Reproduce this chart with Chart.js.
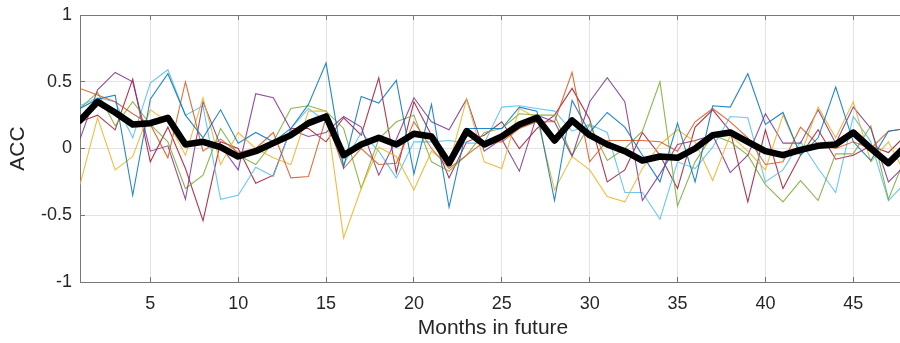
<!DOCTYPE html>
<html>
<head>
<meta charset="utf-8">
<script src="https://cdn.jsdelivr.net/npm/chart.js@4/dist/chart.umd.min.js"></script>
<style>
  html, body { margin: 0; padding: 0; background: #fff; overflow: hidden; }
  #wrap { width: 910px; height: 343px; }
</style>
</head>
<body>
<div id="wrap"><canvas id="acc" width="910" height="343"></canvas></div>
<script>
// lead months
const months = [1, 2, 3, 4, 5, 6, 7, 8, 9, 10, 11, 12, 13, 14, 15, 16, 17, 18, 19, 20, 21, 22, 23, 24,
                25, 26, 27, 28, 29, 30, 31, 32, 33, 34, 35, 36, 37, 38, 39, 40, 41, 42, 43, 44, 45, 46, 47, 48];
const xTicks = [5, 10, 15, 20, 25, 30, 35, 40, 45];
const yTicks = [-1, -0.5, 0, 0.5, 1];

// ACC of the individual runs
const run1 = [0.30, 0.37, 0.40, -0.35, 0.37, 0.56, 0.25, 0.08, 0.29, 0.04, 0.12, 0.05, 0.15, 0.33, 0.64, -0.14,
              0.39, 0.34, 0.51, -0.19, 0.33, -0.44, 0.15, 0.15, 0.15, 0.31, 0.28, -0.39, 0.36, 0.12, 0.27, 0.16,
              -0.05, -0.25, 0.19, -0.25, 0.32, 0.31, 0.56, 0.18, 0.27, -0.05, 0.08, 0.46, 0.05, -0.09, 0.13, 0.15];
const run2 = [0.45, 0.40, 0.35, 0.26, 0.18, -0.07, 0.50, -0.02, 0.07, -0.03, 0.00, 0.12, -0.22, -0.21, 0.23, -0.15,
              0.00, -0.12, -0.11, 0.20, 0.00, -0.15, -0.05, 0.05, 0.05, 0.15, 0.20, 0.20, 0.57, -0.10, 0.06, 0.06,
              0.06, 0.05, -0.02, 0.20, 0.30, 0.20, 0.08, -0.12, -0.10, 0.16, 0.03, 0.00, 0.05, 0.00, 0.13, 0.15];
const run3 = [-0.27, 0.23, -0.16, -0.06, 0.29, 0.20, -0.05, 0.38, -0.12, 0.12, 0.00, -0.07, -0.12, 0.28, 0.28, -0.67,
              -0.30, 0.01, -0.06, -0.31, -0.02, -0.12, 0.37, -0.10, -0.15, 0.30, 0.23, -0.31, -0.06, -0.16, -0.36, -0.40,
              -0.15, 0.03, 0.14, 0.05, -0.24, 0.10, -0.02, -0.16, 0.25, -0.05, 0.31, 0.08, 0.35, -0.10, 0.05, -0.20];
const run4 = [0.07, 0.44, 0.57, 0.50, -0.02, 0.02, -0.38, 0.35, 0.02, -0.16, 0.41, 0.38, 0.14, 0.09, 0.12, 0.24,
              0.16, -0.20, 0.07, 0.38, 0.20, 0.14, 0.37, -0.02, 0.07, -0.17, 0.25, 0.20, -0.06, 0.35, 0.53, 0.35,
              -0.39, -0.19, 0.03, 0.06, 0.10, -0.18, -0.05, 0.26, 0.04, 0.04, 0.29, 0.04, 0.31, 0.15, -0.25, -0.12];
const run5 = [0.30, 0.42, 0.17, 0.35, 0.18, 0.05, -0.30, -0.20, 0.15, -0.05, -0.12, 0.05, 0.30, 0.32, 0.28, 0.15,
              -0.30, 0.07, 0.20, 0.25, -0.10, -0.17, -0.05, 0.12, 0.15, 0.26, 0.25, 0.25, -0.05, 0.18, -0.09, 0.00,
              0.13, 0.50, -0.43, -0.10, 0.10, 0.05, -0.05, -0.27, -0.40, -0.24, -0.39, -0.04, -0.04, 0.17, -0.38, -0.05];
const run6 = [0.32, 0.38, 0.35, 0.08, 0.49, 0.59, 0.25, 0.32, -0.38, -0.35, -0.14, -0.21, 0.15, 0.30, 0.20, -0.12,
              0.12, -0.02, -0.22, 0.05, 0.05, 0.06, 0.04, 0.04, 0.31, 0.32, 0.30, 0.28, 0.13, 0.18, 0.12, -0.33,
              -0.33, -0.53, -0.10, -0.15, 0.01, 0.24, 0.23, -0.25, -0.16, 0.05, -0.15, -0.33, 0.24, 0.05, -0.39, -0.25];
const run7 = [0.20, 0.25, 0.14, 0.52, -0.10, 0.16, -0.15, -0.54, 0.05, 0.00, -0.26, -0.20, 0.15, 0.15, 0.05, 0.23,
              0.10, 0.53, -0.18, 0.35, 0.10, -0.22, 0.05, 0.10, 0.20, 0.00, 0.15, 0.25, 0.45, 0.22, -0.25, -0.16,
              0.12, -0.05, -0.30, 0.16, 0.29, 0.13, -0.40, 0.14, -0.30, -0.05, 0.14, -0.08, -0.05, 0.02, -0.03, 0.10];

// ensemble mean
const meanAcc = [0.21, 0.35, 0.27, 0.18, 0.19, 0.23, 0.03, 0.05, 0.01, -0.06, -0.02, 0.04, 0.10, 0.19, 0.24, -0.05,
                 0.03, 0.08, 0.03, 0.11, 0.09, -0.11, 0.13, 0.03, 0.09, 0.18, 0.23, 0.06, 0.21, 0.10, 0.03, -0.02,
                 -0.09, -0.06, -0.07, 0.00, 0.10, 0.12, 0.05, -0.02, -0.05, -0.01, 0.02, 0.03, 0.12, 0.00, -0.11, 0.02];

const runs = [run1, run2, run3, run4, run5, run6, run7];
const colors = ['#0072BD', '#D95319', '#EDB120', '#7E2F8E', '#77AC30', '#4DBEEE', '#A2142F'];

const pts = vals => vals.map((v, i) => ({ x: months[i], y: v }));

const datasets = [{
    data: pts(meanAcc),
    borderColor: '#000',
    borderWidth: 6.5,
    borderJoinStyle: 'round',
    borderCapStyle: 'round'
}];
runs.forEach((r, k) => {
    datasets.push({ data: pts(r), borderColor: colors[k] + 'd9', borderWidth: 1.1 });
});

const font = { family: '"Liberation Sans", Arial, sans-serif', size: 18 };
const axisColor = '#777';
const gridColor = '#e3e3e3';

new Chart(document.getElementById('acc'), {
    type: 'line',
    data: { datasets: datasets },
    options: {
        responsive: false,
        animation: false,
        events: [],
        layout: { padding: { left: 0, right: 4, top: 15, bottom: 0 } },
        elements: { point: { radius: 0 }, line: { tension: 0 } },
        plugins: { legend: { display: false }, tooltip: { enabled: false } },
        scales: {
            x: {
                type: 'linear',
                min: 1,
                max: 48,
                afterBuildTicks: s => { s.ticks = xTicks.map(v => ({ value: v })); },
                afterFit: s => { s.height = 61; },
                ticks: { font: font, color: '#262626', padding: 16, maxRotation: 0 },
                grid: { color: gridColor, tickColor: axisColor, tickLength: -5 },
                border: { color: axisColor, width: 1 },
                title: {
                    display: true,
                    text: 'Months in future',
                    font: { family: font.family, size: 21 },
                    color: '#262626',
                    padding: { top: 0, bottom: 2 }
                }
            },
            x2: {
                type: 'linear',
                position: 'top',
                display: true,
                min: 1,
                max: 48,
                afterBuildTicks: s => { s.ticks = xTicks.map(v => ({ value: v })); },
                afterFit: s => { s.height = 0; },
                ticks: { display: false },
                grid: { drawOnChartArea: false, tickColor: axisColor, tickLength: -5 },
                border: { color: axisColor, width: 1 }
            },
            y: {
                min: -1,
                max: 1,
                afterBuildTicks: s => { s.ticks = yTicks.map(v => ({ value: v })); },
                afterFit: s => { s.width = 80; s.paddingTop = 0; s.paddingBottom = 0; },
                ticks: { font: font, color: '#262626', padding: 13, callback: v => String(v) },
                grid: { color: gridColor, tickColor: axisColor, tickLength: -5 },
                border: { color: axisColor, width: 1 },
                title: {
                    display: true,
                    text: 'ACC',
                    font: { family: font.family, size: 21 },
                    color: '#262626',
                    padding: { top: 6, bottom: 0 }
                }
            }
        }
    }
});
</script>
</body>
</html>
